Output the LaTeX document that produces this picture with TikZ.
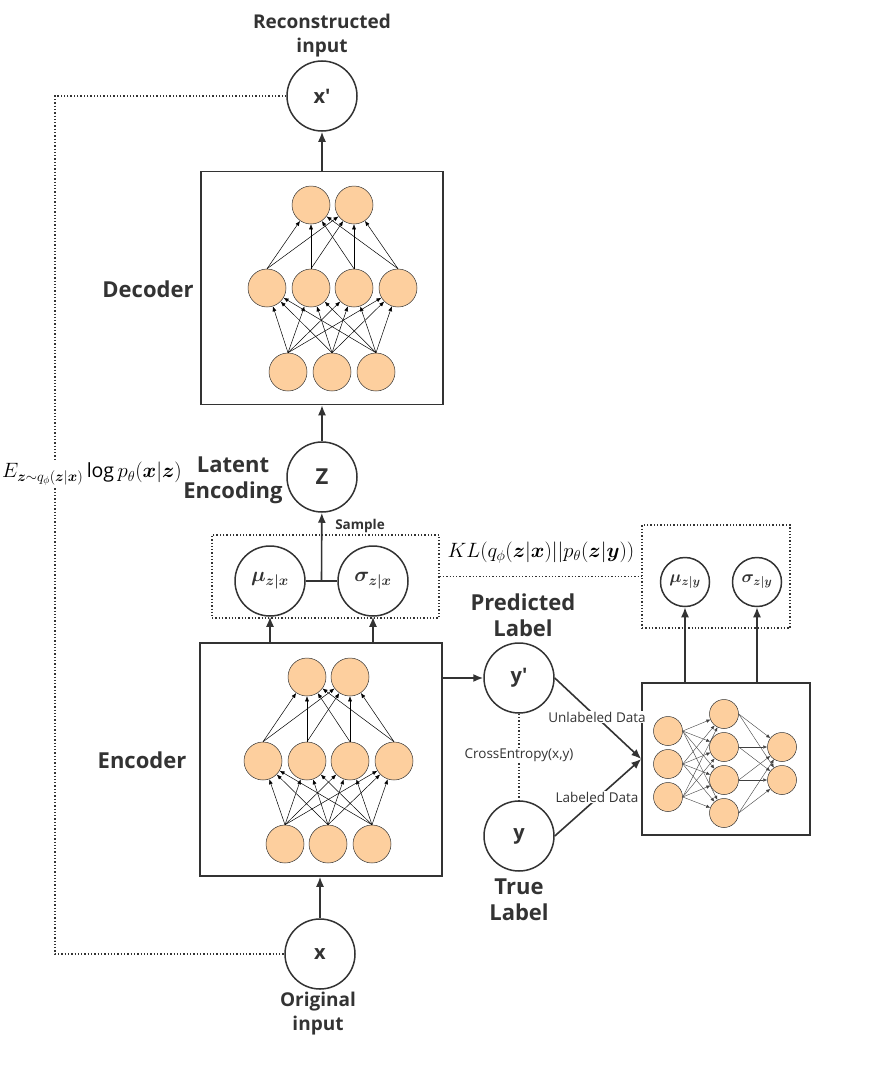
\documentclass[tikz,border=0pt]{standalone}
\usepackage{amsmath,amssymb,bm}
\usepackage{fontspec}
\setmainfont{Open Sans}
\usepackage{tikz}
\usetikzlibrary{arrows.meta,positioning,calc}
\definecolor{inkgrey}{HTML}{333333}
\definecolor{peach}{HTML}{FDCF9E}
\tikzstyle{vae}=[
  x=1pt,y=-1pt,>={Latex[length=10pt,width=8pt]},color=inkgrey
]
\tikzstyle{varnode}=[
  draw=inkgrey,circle,line width=1.5pt,minimum size=70pt,inner sep=0pt,fill=white,
  font=\fontsize{20}{22}\selectfont\bfseries
]
\tikzstyle{smallvar}=[
  varnode,minimum size=49pt
]
\tikzstyle{neuron}=[
  draw=black!80,circle,line width=0.5pt,fill=peach,minimum size=38pt,inner sep=0pt
]
\tikzstyle{smallneuron}=[
  neuron,minimum size=29pt
]
\tikzstyle{netbox}=[
  draw=inkgrey,line width=1.5pt,inner sep=0pt
]
\tikzstyle{dotbox}=[
  draw=inkgrey,dotted,line width=1.3pt,inner sep=0pt
]
\tikzstyle{mainedge}=[
  ->,line width=1.6pt
]
\tikzstyle{synapse}=[
  ->,>={Latex[length=5pt,width=4pt]},line width=0.5pt,black
]
\tikzstyle{thinsynapse}=[
  ->,>={Latex[length=4pt,width=3.5pt]},line width=0.4pt,black!75
]
\tikzstyle{dots}=[
  dotted,line width=1.3pt
]
\tikzstyle{title}=[
  align=center,font=\fontsize{22}{26}\selectfont\bfseries,text=inkgrey
]
\tikzstyle{smalltitle}=[
  title,font=\fontsize{19}{24}\selectfont\bfseries
]
\tikzstyle{edgelabel}=[
  fill=white,inner sep=1pt,font=\fontsize{13.5}{15}\selectfont,text=inkgrey
]
\tikzstyle{mathlabel}=[
  font=\fontsize{19.5}{22}\selectfont,text=black
]

\begin{document}
\begin{tikzpicture}[vae]
    \useasboundingbox (0,0) rectangle (882,1073);
    % boxes
    \node (dec) [netbox,minimum width=242pt,minimum height=233pt] at (322,288) {};
    \node (enc) [netbox,minimum width=242pt,minimum height=233pt] at (321,759.5) {};
    \node (cls) [netbox,minimum width=168pt,minimum height=152pt] at (726,759) {};
    \node (post) [dotbox,minimum width=227pt,minimum height=83pt] at (325.5,576.5) {};
    \node (prior) [dotbox,minimum width=148pt,minimum height=103pt] at (716,576.5) {};
    % variables
    \node (xp) [varnode] at (322,96) {x\textquotesingle};
    \node (z) [varnode,font=\fontsize{22}{24}\selectfont\bfseries] at (322,477) {Z};
    \node (mu) [varnode] at (270,581) {$\bm{\mu}_{\bm{z|x}}$};
    \node (sigma) [varnode] at (373,581) {$\bm{\sigma}_{\bm{z|x}}$};
    \node (x) [varnode] at (320,954) {x};
    \node (yp) [varnode] at (519,678) {y\textquotesingle};
    \node (y) [varnode] at (519,836) {y};
    \node (muy) [smallvar,font=\fontsize{17}{19}\selectfont] at (685,582) {$\bm{\mu}_{\bm{z|y}}$};
    \node (sigmay) [smallvar,font=\fontsize{17}{19}\selectfont] at (757,582) {$\bm{\sigma}_{\bm{z|y}}$};
    % titles
    \node (recon) [smalltitle] at (322,36) {Reconstructed\\input};
    \node (declabel) [title] at (148,289) {Decoder};
    \node (latent) [title] at (233,480) {Latent\\Encoding};
    \node (enclabel) [title] at (142,760) {Encoder};
    \node (orig) [smalltitle] at (318,1014) {Original\\input};
    \node (pred) [title] at (523,615) {Predicted\\Label};
    \node (truth) [title] at (519,900) {True\\Label};
    \node (sample) [font=\fontsize{13.5}{15}\selectfont\bfseries] at (360,526) {Sample};
    % decoder network
    \foreach \i/\px in {1/311,2/354}
      \node (dec-t\i) [neuron] at (\px,205) {};
    \foreach \i/\px in {1/267,2/311,3/354,4/398}
      \node (dec-m\i) [neuron] at (\px,288) {};
    \foreach \i/\px in {1/288,2/332,3/376}
      \node (dec-b\i) [neuron] at (\px,372) {};
    \foreach \s in {1,2,3}
      \foreach \t in {1,...,4}
        \draw [synapse] (dec-b\s.north) -- (dec-m\t);
    \foreach \s in {1,...,4}
      \foreach \t in {1,2}
        \draw [synapse] (dec-m\s.north) -- (dec-t\t);
    % encoder network
    \foreach \i/\px in {1/307,2/350}
      \node (enc-t\i) [neuron] at (\px,677) {};
    \foreach \i/\px in {1/263,2/307,3/350,4/394}
      \node (enc-m\i) [neuron] at (\px,761) {};
    \foreach \i/\px in {1/285,2/328,3/372}
      \node (enc-b\i) [neuron] at (\px,844) {};
    \foreach \s in {1,2,3}
      \foreach \t in {1,...,4}
        \draw [synapse] (enc-b\s.north) -- (enc-m\t);
    \foreach \s in {1,...,4}
      \foreach \t in {1,2}
        \draw [synapse] (enc-m\s.north) -- (enc-t\t);
    % classifier network
    \foreach \i/\py in {1/731,2/764,3/797}
      \node (cls-a\i) [smallneuron] at (668,\py) {};
    \foreach \i/\py in {1/714,2/747,3/780,4/813}
      \node (cls-b\i) [smallneuron] at (724,\py) {};
    \foreach \i/\py in {1/747,2/780}
      \node (cls-c\i) [smallneuron] at (782,\py) {};
    \foreach \s in {1,2,3}
      \foreach \t in {1,...,4}
        \draw [thinsynapse] (cls-a\s.east) -- (cls-b\t);
    \foreach \s in {1,...,4}
      \foreach \t in {1,2}
        \draw [thinsynapse] (cls-b\s.east) -- (cls-c\t);
    % main flow
    \coordinate (join) at ($(mu.east)!0.5!(sigma.west)$);
    \draw [mainedge] (dec.north) -- (xp);
    \draw [mainedge] (z) -- (dec.south);
    \draw [line width=1.6pt] (mu) -- (sigma);
    \draw [mainedge] (join) -- (z);
    \draw [mainedge] (enc.north -| mu) -- (mu);
    \draw [mainedge] (enc.north -| sigma) -- (sigma);
    \draw [mainedge] (x) -- (enc.south -| x);
    \draw [mainedge] (enc.east |- yp) -- (yp);
    \draw [mainedge] (cls.north -| muy) -- (muy);
    \draw [mainedge] (cls.north -| sigmay) -- (sigmay);
    \draw [mainedge] (yp.east) -- (cls.west);
    \draw [mainedge] (y.east) -- (cls.west);
    \node (unlab) [edgelabel] at (597,717) {Unlabeled Data};
    \node (lab) [edgelabel] at (597,797) {Labeled Data};
    % losses
    \coordinate (loopTop) at (55,96);
    \coordinate (loopBot) at (55,954);
    \draw [dots] (xp.west) -- (loopTop) -- (loopBot) -- (x.west);
    \node (elbo) [mathlabel,fill=white,inner sep=2pt] at (92,474)
      {$E_{\bm{z}\sim q_{\phi}(\bm{z}|\bm{x})}\log p_{\theta}(\bm{x}|\bm{z})$};
    \draw [dots] (post.east) -- (prior.west);
    \node (kl) [mathlabel] at (541,553)
      {$KL(q_{\phi}(\bm{z}|\bm{x})||p_{\theta}(\bm{z}|\bm{y}))$};
    \draw [dots] (yp.south) -- (y.north);
    \node (xent) [edgelabel] at (519,755) {CrossEntropy(x,y)};
\end{tikzpicture}
\end{document}
